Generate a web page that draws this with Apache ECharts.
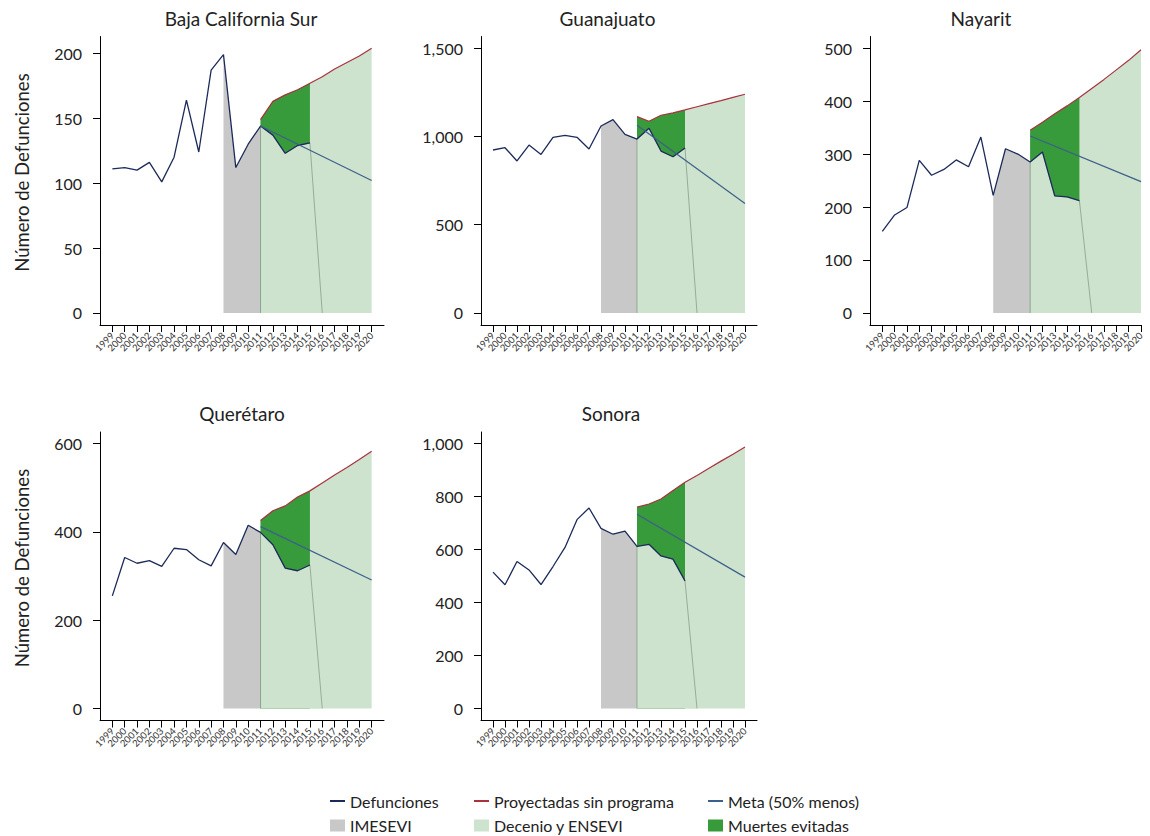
<!DOCTYPE html>
<html>
<head>
<meta charset="utf-8">
<script src="https://cdn.jsdelivr.net/npm/echarts@6/dist/echarts.min.js"></script>
<style>
  html, body { margin: 0; padding: 0; background: #fff; }
  #chart { width: 1150px; height: 836px; }
</style>
</head>
<body>
<div id="chart"></div>
<script>
// Years shown on the horizontal axis (tick labels)
const years = [1999, 2000, 2001, 2002, 2003, 2004, 2005, 2006, 2007, 2008, 2009,
               2010, 2011, 2012, 2013, 2014, 2015, 2016, 2017, 2018, 2019, 2020];
// Observed deaths run 1999–2015, projections 2011–2020
const obsYears = [1999, 2000, 2001, 2002, 2003, 2004, 2005, 2006, 2007, 2008, 2009,
                  2010, 2011, 2012, 2013, 2014, 2015];
const projYears = [2011, 2012, 2013, 2014, 2015, 2016, 2017, 2018, 2019, 2020];
const imesYears = [2008, 2009, 2010, 2011];
const evitYears = [2011, 2012, 2013, 2014, 2015];
const metaYears = [2011, 2020];

// Baja California Sur
const defBCS  = [111, 112, 110, 116, 101, 120, 164, 124, 187, 199, 112, 130, 144, 137, 123, 129, 131];
const proyBCS = [149, 163, 168, 172, 177, 182, 188, 193, 198, 204];
const metaBCS = [144, 102];
const ticksBCS = [0, 50, 100, 150, 200];

// Guanajuato
const defGto  = [923, 936, 861, 951, 898, 995, 1006, 995, 929, 1059, 1095, 1012, 985, 1046, 917, 885, 934];
const proyGto = [1112, 1086, 1120, 1133, 1150, 1168, 1186, 1203, 1221, 1239];
const metaGto = [1063, 620];
const ticksGto = [0, 500, 1000, 1500];

// Nayarit
const defNay  = [154, 185, 199, 288, 260, 271, 289, 276, 332, 222, 310, 300, 285, 304, 221, 219, 212];
const proyNay = [345, 360, 376, 391, 407, 424, 441, 459, 477, 497];
const metaNay = [334, 248];
const ticksNay = [0, 100, 200, 300, 400, 500];

// Querétaro
const defQro  = [255, 342, 329, 335, 322, 363, 360, 337, 323, 376, 349, 415, 399, 371, 318, 312, 325];
const proyQro = [426, 448, 459, 479, 493, 511, 529, 546, 564, 583];
const metaQro = [412, 291];
const ticksQro = [0, 200, 400, 600];

// Sonora
const defSon  = [515, 467, 555, 523, 468, 536, 608, 713, 757, 680, 658, 670, 612, 620, 576, 564, 482];
const proySon = [760, 772, 791, 823, 854, 880, 907, 934, 960, 987];
const metaSon = [733, 496];
const ticksSon = [0, 200, 400, 600, 800, 1000];

const legendNames = ['Defunciones', 'Proyectadas sin programa', 'Meta (50% menos)',
                     'IMESEVI', 'Decenio y ENSEVI', 'Muertes evitadas'];
const yTitle = 'Número de Defunciones';

const C = {
  def: '#1c2a5a', proy: '#a8323e', meta: '#3d5f8b',
  imes: '#c8c8c8', dec: '#cde3ce', evit: '#379a3b', edge: 'rgba(120,140,120,0.7)',
  text: '#222'
};
const FONT = 'Lato, "Open Sans", sans-serif';

// Panel layout (pixel boxes for each small multiple)
const panels = [
  { title: 'Baja California Sur', def: defBCS, proy: proyBCS, meta: metaBCS, ticks: ticksBCS,
    left: 100, top: 36.5, width: 284, xMax: 2021, titleX: 241, yName: true },
  { title: 'Guanajuato', def: defGto, proy: proyGto, meta: metaGto, ticks: ticksGto,
    left: 481, top: 36.5, width: 276, xMax: 2021, titleX: 607.5, yName: false },
  { title: 'Nayarit', def: defNay, proy: proyNay, meta: metaNay, ticks: ticksNay,
    left: 870, top: 36.5, width: 271, xMax: 2020, titleX: 981, yName: false },
  { title: 'Querétaro', def: defQro, proy: proyQro, meta: metaQro, ticks: ticksQro,
    left: 100, top: 432, width: 284, xMax: 2021, titleX: 242, yName: true },
  { title: 'Sonora', def: defSon, proy: proySon, meta: metaSon, ticks: ticksSon,
    left: 481, top: 432, width: 276, xMax: 2021, titleX: 611, yName: false }
];
const panelHeight = 288.5;

// Year labels are split over two stacked twin axes so neighbouring slanted labels never get dropped
const yearsA = years.filter((_, k) => k % 2 === 0);
const yearsB = years.filter((_, k) => k % 2 === 1);

const defAt = (p, y) => p.def[obsYears.indexOf(y)];
const proyAt = (p, y) => p.proy[projYears.indexOf(y)];
const fmt = v => Math.round(v).toLocaleString('en-US');

const grid = [], xAxis = [], yAxis = [], series = [], graphic = [];

const yearLabel = vals => ({
  customValues: vals, rotate: 45, fontSize: 9.5, color: '#333', margin: 9,
  showMinLabel: true, showMaxLabel: true, hideOverlap: false,
  fontFamily: FONT, formatter: v => String(v)
});

panels.forEach((p, i) => {
  const range = Math.max(p.ticks[p.ticks.length - 1], ...p.proy);
  const yMin = -range * 0.0455, yMax = range * 1.044;
  const box = { left: p.left, top: p.top, width: p.width, height: panelHeight };
  const g = 2 * i;          // main grid
  const gTwin = 2 * i + 1;  // twin grid carrying the other half of the year labels
  grid.push(Object.assign({}, box), Object.assign({}, box));

  xAxis.push({
    type: 'value', gridIndex: g, min: 1998, max: p.xMax,
    axisLine: { show: true, onZero: false, lineStyle: { color: '#000', width: 1 } },
    axisTick: { show: true, length: 7, customValues: years, lineStyle: { color: '#000', width: 1 } },
    axisLabel: yearLabel(yearsA),
    splitLine: { show: false }
  }, {
    type: 'value', gridIndex: gTwin, min: 1998, max: p.xMax,
    axisLine: { show: false, onZero: false }, axisTick: { show: false },
    axisLabel: yearLabel(yearsB),
    splitLine: { show: false }
  });

  yAxis.push({
    type: 'value', gridIndex: g, min: yMin, max: yMax,
    axisLine: { show: true, onZero: false, lineStyle: { color: '#000', width: 1 } },
    axisTick: { show: true, length: 7, customValues: p.ticks, lineStyle: { color: '#000', width: 1 } },
    axisLabel: { customValues: p.ticks, fontSize: 16, color: C.text, margin: 18,
                 showMinLabel: true, showMaxLabel: true,
                 fontFamily: FONT, formatter: fmt },
    splitLine: { show: false }
  }, {
    type: 'value', gridIndex: gTwin, min: yMin, max: yMax, show: false,
    splitLine: { show: false }
  });

  const base = { xAxisIndex: g, yAxisIndex: g, type: 'line', symbol: 'none', silent: true,
                 animation: false, emphasis: { disabled: true } };

  // IMESEVI period: area under observed deaths 2008–2011
  series.push(Object.assign({}, base, {
    name: 'IMESEVI', z: 1,
    data: imesYears.map(y => [y, defAt(p, y)]),
    itemStyle: { color: C.imes }, lineStyle: { width: 0, color: C.imes },
    areaStyle: { color: C.imes, opacity: 1 }
  }));
  // Decenio y ENSEVI: area under the projection 2011–2020
  series.push(Object.assign({}, base, {
    name: 'Decenio y ENSEVI', z: 2,
    data: projYears.map(y => [y, proyAt(p, y)]),
    itemStyle: { color: C.dec }, lineStyle: { width: 0, color: C.dec },
    areaStyle: { color: C.dec, opacity: 1 }
  }));
  // Muertes evitadas: projection down to the observed deaths 2011–2015
  series.push(Object.assign({}, base, {
    name: 'Muertes evitadas', z: 3,
    data: evitYears.map(y => [y, proyAt(p, y)]),
    itemStyle: { color: C.evit }, lineStyle: { width: 0, color: C.evit },
    areaStyle: { color: C.evit, opacity: 1 }
  }));
  // Programme period below observed deaths, with its outline dropping to zero after 2015
  const lastEvit = evitYears[evitYears.length - 1];
  series.push(Object.assign({}, base, {
    name: 'Decenio y ENSEVI (observado)', z: 4,
    data: [[evitYears[0], 0]].concat(evitYears.map(y => [y, defAt(p, y)]), [[lastEvit + 1, 0]]),
    itemStyle: { color: C.dec }, lineStyle: { width: 0.9, color: C.edge },
    areaStyle: { color: C.dec, opacity: 1 }
  }));

  series.push(Object.assign({}, base, {
    name: 'Defunciones', z: 6,
    data: obsYears.map(y => [y, defAt(p, y)]),
    itemStyle: { color: C.def }, lineStyle: { width: 1.3, color: C.def }
  }));
  series.push(Object.assign({}, base, {
    name: 'Proyectadas sin programa', z: 6,
    data: projYears.map(y => [y, proyAt(p, y)]),
    itemStyle: { color: C.proy }, lineStyle: { width: 1.2, color: C.proy }
  }));
  series.push(Object.assign({}, base, {
    name: 'Meta (50% menos)', z: 7,
    data: metaYears.map((y, k) => [y, p.meta[k]]),
    itemStyle: { color: C.meta }, lineStyle: { width: 1.2, color: C.meta }
  }));

  const rowOffset = p.top - 36.5;
  graphic.push({
    type: 'text', x: p.titleX, y: 18 + rowOffset, silent: true,
    style: { text: p.title, fill: C.text, font: '19px ' + FONT,
             align: 'center', verticalAlign: 'middle', textAlign: 'center', textVerticalAlign: 'middle' }
  });
  if (p.yName) {
    graphic.push({
      type: 'text', x: 21.5, y: 172.5 + rowOffset, rotation: Math.PI / 2, silent: true,
      style: { text: yTitle, fill: C.text, font: '18.5px ' + FONT,
               align: 'center', verticalAlign: 'middle', textAlign: 'center', textVerticalAlign: 'middle' }
    });
  }
});

// Legend keys: thin bar for lines, filled box for areas
const LINE_ICON = 'path://M0,0H30V4H0Z';
const lineItem = (name, color) => ({ name, icon: LINE_ICON, itemStyle: { color, borderWidth: 0 } });
const boxItem = (name, color) => ({ name, icon: 'rect', itemStyle: { color, borderWidth: 0 } });
const legendBase = {
  orient: 'vertical', top: 792, height: 60, padding: 0,
  itemWidth: 15, itemHeight: 12, itemGap: 6.5, selectedMode: false,
  textStyle: { fontSize: 16, color: C.text, fontFamily: FONT, lineHeight: 18 }
};
const legend = [
  Object.assign({}, legendBase, { left: 330, data: [lineItem(legendNames[0], C.def), boxItem(legendNames[3], C.imes)] }),
  Object.assign({}, legendBase, { left: 474, data: [lineItem(legendNames[1], C.proy), boxItem(legendNames[4], C.dec)] }),
  Object.assign({}, legendBase, { left: 708, data: [lineItem(legendNames[2], C.meta), boxItem(legendNames[5], C.evit)] })
];

const chart = echarts.init(document.getElementById('chart'), null, { renderer: 'svg' });
chart.setOption({
  animation: false,
  backgroundColor: '#fff',
  textStyle: { fontFamily: FONT },
  grid, xAxis, yAxis, series, legend, graphic
});
</script>
</body>
</html>
